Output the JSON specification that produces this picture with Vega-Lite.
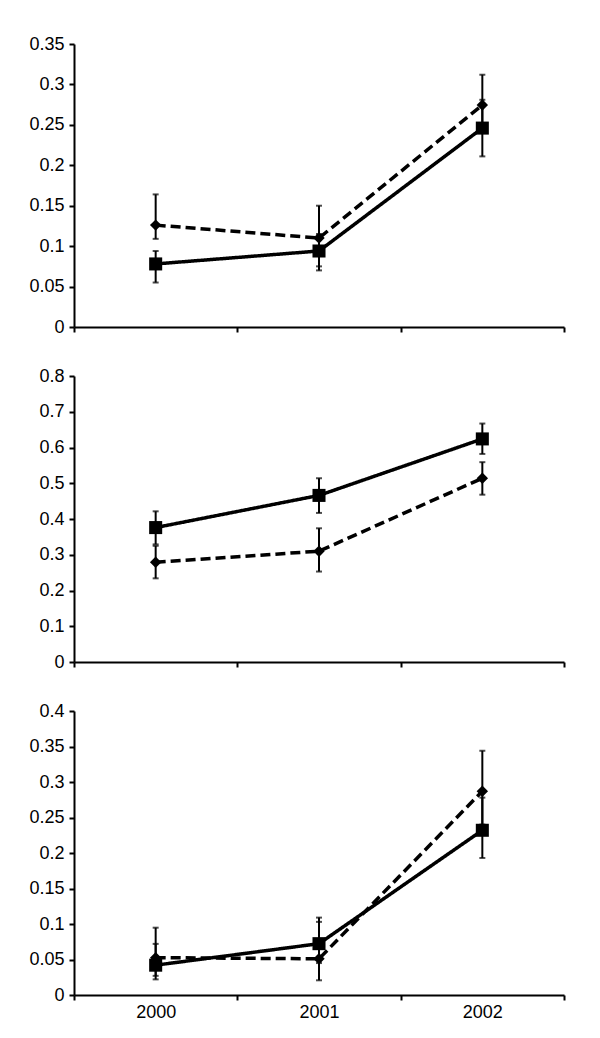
{
  "$schema": "https://vega.github.io/schema/vega-lite/v6.json",
  "padding": {"left": 28, "top": 35, "right": 5, "bottom": 5},
  "background": "white",
  "spacing": 31,
  "config": {
    "view": {"stroke": null},
    "axis": {
      "domainColor": "black", "domainWidth": 2, "tickColor": "black", "tickWidth": 2, "tickSize": 5,
      "labelFont": "Liberation Sans", "labelFontSize": 18, "labelColor": "black", "grid": false, "title": null, "labelOverlap": false
    },
    "axisY": {"labelPadding": 5},
    "axisX": {"labelPadding": 3, "labelAngle": 0}
  },
  "datasets": {
    "p1": [
      {"year": "2000", "s": "square", "v": 0.078, "lo": 0.055, "hi": 0.094},
      {"year": "2001", "s": "square", "v": 0.094, "lo": 0.070, "hi": 0.115},
      {"year": "2002", "s": "square", "v": 0.246, "lo": 0.211, "hi": 0.281},
      {"year": "2000", "s": "diamond", "v": 0.126, "lo": 0.109, "hi": 0.164},
      {"year": "2001", "s": "diamond", "v": 0.110, "lo": 0.075, "hi": 0.150},
      {"year": "2002", "s": "diamond", "v": 0.2745, "lo": 0.240, "hi": 0.312}
    ],
    "p2": [
      {"year": "2000", "s": "square", "v": 0.376, "lo": 0.329, "hi": 0.4215},
      {"year": "2001", "s": "square", "v": 0.466, "lo": 0.417, "hi": 0.514},
      {"year": "2002", "s": "square", "v": 0.624, "lo": 0.582, "hi": 0.667},
      {"year": "2000", "s": "diamond", "v": 0.279, "lo": 0.234, "hi": 0.325},
      {"year": "2001", "s": "diamond", "v": 0.310, "lo": 0.253, "hi": 0.374},
      {"year": "2002", "s": "diamond", "v": 0.514, "lo": 0.468, "hi": 0.559}
    ],
    "p3": [
      {"year": "2000", "s": "square", "v": 0.042, "lo": 0.027, "hi": 0.072},
      {"year": "2001", "s": "square", "v": 0.0723, "lo": 0.045, "hi": 0.103},
      {"year": "2002", "s": "square", "v": 0.232, "lo": 0.193, "hi": 0.278},
      {"year": "2000", "s": "diamond", "v": 0.0526, "lo": 0.022, "hi": 0.0948},
      {"year": "2001", "s": "diamond", "v": 0.051, "lo": 0.0207, "hi": 0.109},
      {"year": "2002", "s": "diamond", "v": 0.287, "lo": 0.240, "hi": 0.344}
    ]
  },
  "vconcat": [
    {
      "width": 490, "height": 283,
      "data": {"name": "p1"},
      "encoding": {
        "x": {"field": "year", "type": "nominal", "scale": {"type": "band", "paddingInner": 0, "paddingOuter": 0}, "axis": {"labels": false, "tickBand": "extent"}}
      },
      "layer": [
        {"mark": {"type": "line", "color": "black", "strokeWidth": 3.5},
         "encoding": {"y": {"field": "v", "type": "quantitative", "scale": {"domain": [0, 0.35], "nice": false}, "axis": {"values": [0, 0.05, 0.1, 0.15, 0.2, 0.25, 0.3, 0.35], "format": "~g"}},
           "detail": {"field": "s"},
           "strokeDash": {"field": "s", "type": "nominal", "scale": {"domain": ["diamond", "square"], "range": [[10, 5], [1, 0]]}, "legend": null}}},
        {"mark": {"type": "rule", "color": "black", "strokeWidth": 2},
         "encoding": {"y": {"field": "lo", "type": "quantitative", "axis": {"values": [0, 0.05, 0.1, 0.15, 0.2, 0.25, 0.3, 0.35], "format": "~g"}}, "y2": {"field": "hi"}}},
        {"mark": {"type": "tick", "color": "black", "size": 6, "thickness": 2, "orient": "horizontal"},
         "encoding": {"y": {"field": "lo", "type": "quantitative", "axis": {"values": [0, 0.05, 0.1, 0.15, 0.2, 0.25, 0.3, 0.35], "format": "~g"}}}},
        {"mark": {"type": "tick", "color": "black", "size": 6, "thickness": 2, "orient": "horizontal"},
         "encoding": {"y": {"field": "hi", "type": "quantitative", "axis": {"values": [0, 0.05, 0.1, 0.15, 0.2, 0.25, 0.3, 0.35], "format": "~g"}}}},
        {"mark": {"type": "point", "filled": true, "color": "black", "opacity": 1},
         "encoding": {"y": {"field": "v", "type": "quantitative", "axis": {"values": [0, 0.05, 0.1, 0.15, 0.2, 0.25, 0.3, 0.35], "format": "~g"}},
           "shape": {"field": "s", "type": "nominal", "scale": {"domain": ["diamond", "square"], "range": ["diamond", "square"]}, "legend": null},
           "size": {"field": "s", "type": "nominal", "scale": {"domain": ["diamond", "square"], "range": [130, 170]}, "legend": null}}}
      ]
    },
    {
      "width": 490, "height": 286,
      "data": {"name": "p2"},
      "encoding": {
        "x": {"field": "year", "type": "nominal", "scale": {"type": "band", "paddingInner": 0, "paddingOuter": 0}, "axis": {"labels": false, "tickBand": "extent"}}
      },
      "layer": [
        {"mark": {"type": "line", "color": "black", "strokeWidth": 3.5},
         "encoding": {"y": {"field": "v", "type": "quantitative", "scale": {"domain": [0, 0.8], "nice": false}, "axis": {"values": [0, 0.1, 0.2, 0.3, 0.4, 0.5, 0.6, 0.7, 0.8], "format": "~g"}},
           "detail": {"field": "s"},
           "strokeDash": {"field": "s", "type": "nominal", "scale": {"domain": ["diamond", "square"], "range": [[10, 5], [1, 0]]}, "legend": null}}},
        {"mark": {"type": "rule", "color": "black", "strokeWidth": 2},
         "encoding": {"y": {"field": "lo", "type": "quantitative", "axis": {"values": [0, 0.1, 0.2, 0.3, 0.4, 0.5, 0.6, 0.7, 0.8], "format": "~g"}}, "y2": {"field": "hi"}}},
        {"mark": {"type": "tick", "color": "black", "size": 6, "thickness": 2, "orient": "horizontal"},
         "encoding": {"y": {"field": "lo", "type": "quantitative", "axis": {"values": [0, 0.1, 0.2, 0.3, 0.4, 0.5, 0.6, 0.7, 0.8], "format": "~g"}}}},
        {"mark": {"type": "tick", "color": "black", "size": 6, "thickness": 2, "orient": "horizontal"},
         "encoding": {"y": {"field": "hi", "type": "quantitative", "axis": {"values": [0, 0.1, 0.2, 0.3, 0.4, 0.5, 0.6, 0.7, 0.8], "format": "~g"}}}},
        {"mark": {"type": "point", "filled": true, "color": "black", "opacity": 1},
         "encoding": {"y": {"field": "v", "type": "quantitative", "axis": {"values": [0, 0.1, 0.2, 0.3, 0.4, 0.5, 0.6, 0.7, 0.8], "format": "~g"}},
           "shape": {"field": "s", "type": "nominal", "scale": {"domain": ["diamond", "square"], "range": ["diamond", "square"]}, "legend": null},
           "size": {"field": "s", "type": "nominal", "scale": {"domain": ["diamond", "square"], "range": [130, 170]}, "legend": null}}}
      ]
    },
    {
      "width": 490, "height": 284,
      "data": {"name": "p3"},
      "encoding": {
        "x": {"field": "year", "type": "nominal", "scale": {"type": "band", "paddingInner": 0, "paddingOuter": 0}, "axis": {"tickBand": "extent"}}
      },
      "layer": [
        {"mark": {"type": "line", "color": "black", "strokeWidth": 3.5},
         "encoding": {"y": {"field": "v", "type": "quantitative", "scale": {"domain": [0, 0.4], "nice": false}, "axis": {"values": [0, 0.05, 0.1, 0.15, 0.2, 0.25, 0.3, 0.35, 0.4], "format": "~g"}},
           "detail": {"field": "s"},
           "strokeDash": {"field": "s", "type": "nominal", "scale": {"domain": ["diamond", "square"], "range": [[10, 5], [1, 0]]}, "legend": null}}},
        {"mark": {"type": "rule", "color": "black", "strokeWidth": 2},
         "encoding": {"y": {"field": "lo", "type": "quantitative", "axis": {"values": [0, 0.05, 0.1, 0.15, 0.2, 0.25, 0.3, 0.35, 0.4], "format": "~g"}}, "y2": {"field": "hi"}}},
        {"mark": {"type": "tick", "color": "black", "size": 6, "thickness": 2, "orient": "horizontal"},
         "encoding": {"y": {"field": "lo", "type": "quantitative", "axis": {"values": [0, 0.05, 0.1, 0.15, 0.2, 0.25, 0.3, 0.35, 0.4], "format": "~g"}}}},
        {"mark": {"type": "tick", "color": "black", "size": 6, "thickness": 2, "orient": "horizontal"},
         "encoding": {"y": {"field": "hi", "type": "quantitative", "axis": {"values": [0, 0.05, 0.1, 0.15, 0.2, 0.25, 0.3, 0.35, 0.4], "format": "~g"}}}},
        {"mark": {"type": "point", "filled": true, "color": "black", "opacity": 1},
         "encoding": {"y": {"field": "v", "type": "quantitative", "axis": {"values": [0, 0.05, 0.1, 0.15, 0.2, 0.25, 0.3, 0.35, 0.4], "format": "~g"}},
           "shape": {"field": "s", "type": "nominal", "scale": {"domain": ["diamond", "square"], "range": ["diamond", "square"]}, "legend": null},
           "size": {"field": "s", "type": "nominal", "scale": {"domain": ["diamond", "square"], "range": [130, 170]}, "legend": null}}}
      ]
    }
  ]
}
